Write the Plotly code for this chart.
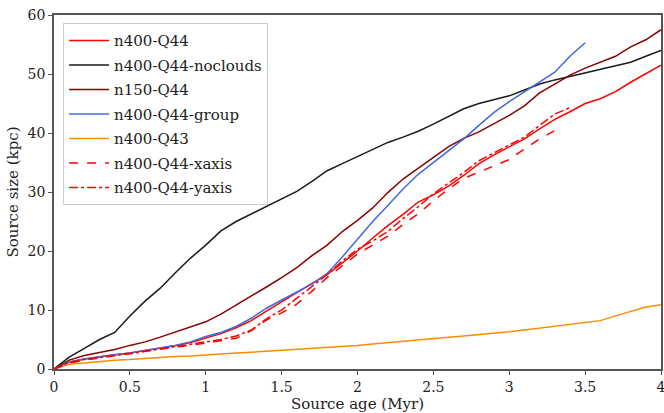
import plotly.graph_objects as go

x_full = [0, 0.1, 0.2, 0.3, 0.4, 0.5, 0.6, 0.7, 0.8, 0.9, 1.0, 1.1, 1.2, 1.3, 1.4, 1.5, 1.6, 1.7, 1.8, 1.9,
          2.0, 2.1, 2.2, 2.3, 2.4, 2.5, 2.6, 2.7, 2.8, 2.9, 3.0, 3.1, 3.2, 3.3, 3.4, 3.5, 3.6, 3.7, 3.8, 3.9, 4.0]

n400_q44 = [0, 1.2, 1.7, 2.1, 2.4, 2.7, 3.1, 3.6, 4.0, 4.5, 5.2, 6.0, 7.0, 8.2, 9.8, 11.4, 13.0, 14.5, 16.0, 18.0,
            20.0, 22.2, 24.3, 26.2, 28.3, 29.5, 31.0, 32.8, 34.8, 36.3, 37.6, 39.0, 40.7, 42.3, 43.6, 45.0, 45.8, 47.0, 48.6, 50.0, 51.5]
noclouds = [0, 2.0, 3.5, 5.0, 6.2, 9.0, 11.5, 13.7, 16.3, 18.8, 21.0, 23.4, 25.0, 26.3, 27.5, 28.8, 30.1, 31.8, 33.6, 34.8,
            36.0, 37.3, 38.4, 39.3, 40.3, 41.5, 42.8, 44.1, 45.0, 45.7, 46.3, 47.3, 48.3, 49.0, 49.6, 50.1, 50.8, 51.3, 52.0, 53.0, 54.0]
n150_q44 = [0, 1.5, 2.3, 2.8, 3.3, 4.0, 4.6, 5.4, 6.3, 7.1, 8.0, 9.3, 10.8, 12.3, 13.9, 15.5, 17.2, 19.2, 21.0, 23.3,
            25.2, 27.3, 29.9, 32.2, 34.0, 35.8, 37.7, 39.1, 40.2, 41.6, 43.0, 44.6, 46.8, 48.3, 49.8, 51.0, 52.0, 53.0, 54.6, 55.8, 57.5]
n400_q43 = [0, 0.8, 1.0, 1.3, 1.5, 1.6, 1.8, 2.0, 2.1, 2.2, 2.4, 2.55, 2.7, 2.85, 3.0, 3.15, 3.3, 3.45, 3.6, 3.8,
            4.0, 4.25, 4.5, 4.75, 5.0, 5.2, 5.4, 5.6, 5.8, 6.05, 6.3, 6.6, 6.9, 7.2, 7.5, 7.8, 8.2, 9.0, 9.8, 10.5, 10.9]

x_group = [0, 0.1, 0.2, 0.3, 0.4, 0.5, 0.6, 0.7, 0.8, 0.9, 1.0, 1.1, 1.2, 1.3, 1.4, 1.5, 1.6, 1.7, 1.8, 1.9,
           2.0, 2.1, 2.2, 2.3, 2.4, 2.5, 2.6, 2.7, 2.8, 2.9, 3.0, 3.1, 3.2, 3.3, 3.4, 3.5]
group = [0, 1.2, 1.7, 2.1, 2.4, 2.7, 3.1, 3.6, 4.0, 4.6, 5.5, 6.2, 7.2, 8.6, 10.3, 11.7, 13.0, 14.4, 16.2, 19.0,
         22.0, 25.0, 27.7, 30.5, 33.0, 35.0, 37.0, 39.0, 41.3, 43.5, 45.3, 47.0, 48.7, 50.3, 53.0, 55.3]

x_xaxis = [0, 0.1, 0.2, 0.3, 0.4, 0.5, 0.6, 0.7, 0.8, 0.9, 1.0, 1.1, 1.2, 1.3, 1.4, 1.5, 1.6, 1.7, 1.8, 1.9,
           2.0, 2.1, 2.2, 2.3, 2.4, 2.5, 2.6, 2.7, 2.8, 2.9, 3.0, 3.1, 3.2, 3.3]
xaxis_run = [0, 1.0, 1.5, 1.9, 2.3, 2.6, 3.0, 3.4, 3.7, 4.0, 4.4, 4.8, 5.2, 6.5, 8.3, 9.5, 11.0, 13.2, 15.5, 17.5,
             19.5, 21.0, 22.5, 24.5, 26.3, 28.5, 30.5, 32.3, 33.4, 34.5, 35.5, 37.3, 39.0, 40.4]

x_yaxis = [0, 0.1, 0.2, 0.3, 0.4, 0.5, 0.6, 0.7, 0.8, 0.9, 1.0, 1.1, 1.2, 1.3, 1.4, 1.5, 1.6, 1.7, 1.8, 1.9,
           2.0, 2.1, 2.2, 2.3, 2.4, 2.5, 2.6, 2.7, 2.8, 2.9, 3.0, 3.1, 3.2, 3.3, 3.4]
yaxis_run = [0, 1.1, 1.6, 2.0, 2.3, 2.6, 3.0, 3.4, 3.8, 4.2, 4.6, 5.0, 5.6, 6.6, 8.5, 10.0, 12.0, 14.0, 16.0, 18.3,
             20.3, 21.7, 23.3, 25.5, 27.5, 29.7, 31.5, 33.3, 35.3, 36.6, 38.0, 39.3, 41.3, 43.2, 44.3]

x_ticks = [0, 0.5, 1, 1.5, 2, 2.5, 3, 3.5, 4]
x_ticklabels = ["0", "0.5", "1", "1.5", "2", "2.5", "3", "3.5", "4"]
y_ticks = [0, 10, 20, 30, 40, 50, 60]

series = [
    ("n400-Q44", x_full, n400_q44, "#ff0000", "solid"),
    ("n400-Q44-noclouds", x_full, noclouds, "#1a1a1a", "solid"),
    ("n150-Q44", x_full, n150_q44, "#8b0000", "solid"),
    ("n400-Q44-group", x_group, group, "#4169e1", "solid"),
    ("n400-Q43", x_full, n400_q43, "#ff8c00", "solid"),
    ("n400-Q44-xaxis", x_xaxis, xaxis_run, "#ff0000", "dash"),
    ("n400-Q44-yaxis", x_yaxis, yaxis_run, "#ff0000", "dashdot"),
]

FONT = "DejaVu Serif"

fig = go.Figure()
for i, (name, xs, ys, col, dash) in enumerate(series):
    fig.add_trace(go.Scatter(x=xs, y=ys, mode="lines", name=name, legendgroup="g%d" % i,
                             line=dict(color=col, width=1.5, dash=dash)))

axis_common = dict(showline=True, linecolor="#555555", linewidth=1.5, mirror=True,
                   ticks="outside", ticklen=4, tickcolor="#555555", showgrid=False, zeroline=False,
                   ticklabeloverflow="allow",
                   tickfont=dict(family=FONT, size=14, color="#222222"))

fig.update_layout(
    width=664, height=413,
    margin=dict(l=54, r=3, t=15, b=44, autoexpand=False),
    paper_bgcolor="white", plot_bgcolor="white",
    font=dict(family=FONT, size=15, color="#222222"),
    xaxis=dict(range=[0, 4], tickvals=x_ticks, ticktext=x_ticklabels,
               title=dict(text="Source age (Myr)", standoff=7, font=dict(family=FONT, size=15)),
               **axis_common),
    yaxis=dict(range=[0, 60], tickvals=y_ticks,
               title=dict(text="Source size (kpc)", standoff=5, font=dict(family=FONT, size=15)),
               **axis_common),
    legend=dict(x=0.015, y=0.977, xanchor="left", yanchor="top",
                bgcolor="rgba(255,255,255,0.8)", bordercolor="#cccccc", borderwidth=1,
                font=dict(family=FONT, size=15), tracegroupgap=2, itemwidth=40),
    showlegend=True,
)

fig.write_html("out.html")
